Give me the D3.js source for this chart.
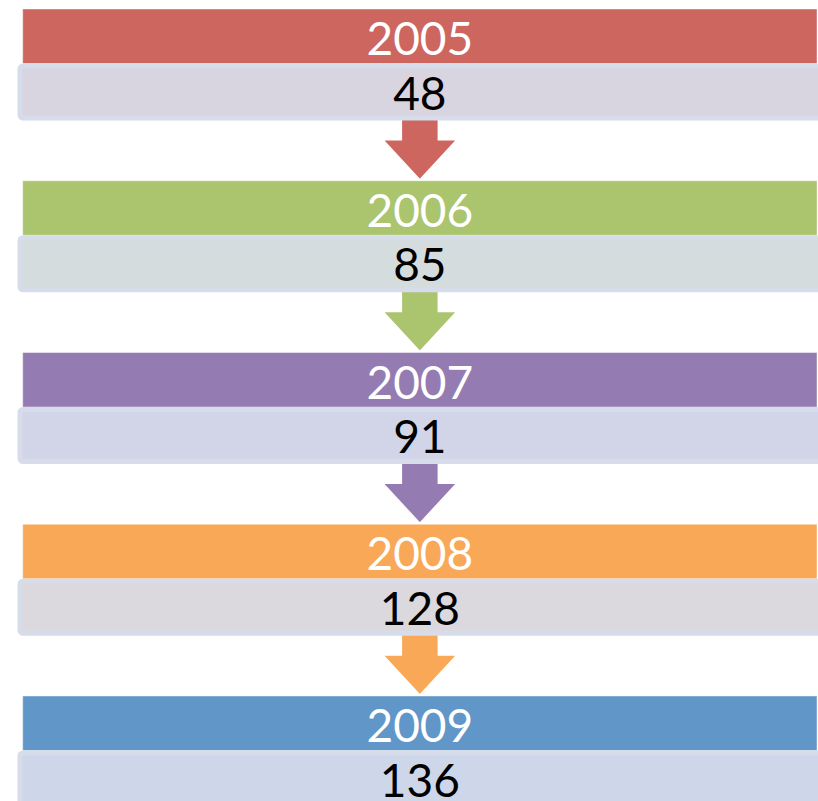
<!DOCTYPE html>
<html>
<head>
<meta charset="utf-8">
<script src="https://cdn.jsdelivr.net/npm/d3@7"></script>
<style>
html,body{margin:0;padding:0;background:#fff;overflow:hidden;}
svg{display:block;}
</style>
</head>
<body>
<svg id="chart" width="818" height="801"></svg>
<script>
const years = ["2005", "2006", "2007", "2008", "2009"];
const values = [48, 85, 91, 128, 136];
const headerColors = ["#cd665f", "#abc46e", "#947bb1", "#f9a857", "#6096c8"];
const bodyColors = ["#d8d4e0", "#d4dcde", "#d2d5e7", "#dbd8de", "#ced7e9"];

const svg = d3.select("#chart");

const y = d3.scaleBand().domain(years).range([9, 9 + years.length * 171.75]).padding(0);
const x = d3.scaleLinear().domain([0, 1]).range([22.7, 817]);
const headerColor = d3.scaleOrdinal().domain(years).range(headerColors);
const bodyColor = d3.scaleOrdinal().domain(years).range(bodyColors);

const headerH = 54.5;
const bodyH = 57;
const cx = (x(0) + x(1)) / 2;

const rows = years.map((yr, i) => ({year: yr, value: values[i], i}));

// headers
svg.selectAll("rect.header").data(rows).join("rect")
  .attr("class", "header")
  .attr("x", x(0)).attr("y", d => y(d.year))
  .attr("width", x(1) - x(0)).attr("height", headerH)
  .attr("fill", d => headerColor(d.year))
  .attr("stroke", "rgba(255,255,255,0.45)").attr("stroke-width", 1);

// arrows
const arrows = rows.slice(0, -1);
svg.selectAll("path.arrow").data(arrows).join("path")
  .attr("class", "arrow")
  .attr("d", d => {
    const top = y(d.year) + headerH + bodyH - 3;
    const tip = y(years[d.i + 1]) - 1;
    const base = tip - 40;
    const sw = 18.5, hw = 37;
    return `M${cx - sw},${top} L${cx + sw},${top} L${cx + sw},${base} L${cx + hw},${base} L${cx},${tip} L${cx - hw},${base} L${cx - sw},${base} Z`;
  })
  .attr("fill", d => headerColor(d.year))
  .attr("stroke", "#fff").attr("stroke-width", 1.5).attr("stroke-linejoin", "miter");

// bodies
svg.selectAll("rect.body").data(rows).join("rect")
  .attr("class", "body")
  .attr("x", 20).attr("y", d => y(d.year) + headerH + 2.5)
  .attr("width", 830).attr("height", bodyH - 5)
  .attr("rx", 3).attr("ry", 3)
  .attr("fill", d => bodyColor(d.year))
  .attr("stroke", "#d6dcea").attr("stroke-width", 5);

// year labels
svg.selectAll("text.year").data(rows).join("text")
  .attr("class", "year")
  .attr("x", cx).attr("y", d => y(d.year) + 46)
  .attr("text-anchor", "middle")
  .attr("font-family", "Lato, 'Open Sans', sans-serif")
  .attr("font-size", 46)
  .attr("fill", "#fff")
  .text(d => d.year);

// value labels
svg.selectAll("text.value").data(rows).join("text")
  .attr("class", "value")
  .attr("x", cx).attr("y", d => y(d.year) + headerH + 46)
  .attr("text-anchor", "middle")
  .attr("font-family", "Lato, 'Open Sans', sans-serif")
  .attr("font-size", 46)
  .attr("fill", "#000")
  .text(d => d.value);
</script>
</body>
</html>
